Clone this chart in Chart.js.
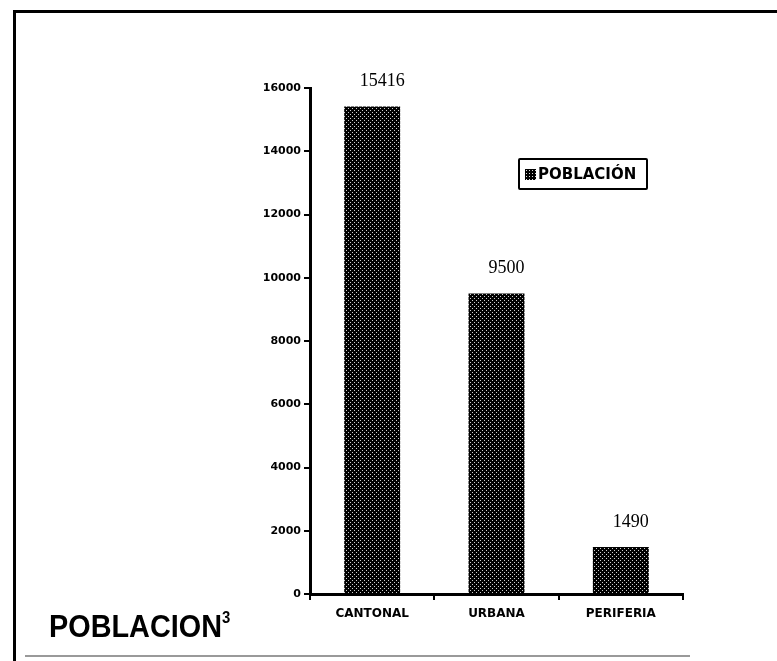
<!DOCTYPE html>
<html>
<head>
<meta charset="utf-8">
<script src="https://cdn.jsdelivr.net/npm/chart.js@4"></script>
<style>
  html, body { margin: 0; padding: 0; background: #fff; }
  #wrap { position: relative; width: 777px; height: 661px; overflow: hidden; }
  #myChart { position: absolute; left: 0; top: 0; }
  .line { position: absolute; background: #000; }
  #legend {
    position: absolute; left: 518px; top: 158px; width: 130px; height: 32px;
    box-sizing: border-box; border: 2px solid #000; border-radius: 2px;
    font: bold 15px "DejaVu Sans", sans-serif; color: #000;
    display: flex; align-items: center; padding-left: 5px;
  }
  #legend .sw {
    width: 11px; height: 11px; margin-right: 2px;
    background-color: #000;
    background-image: radial-gradient(#ddd 30%, transparent 31%);
    background-size: 3px 3px;
  }
  #title {
    position: absolute; left: 49px; top: 609px; line-height: normal;
    font: bold 31px "Liberation Sans", Arial, sans-serif; color: #000;
    transform: scaleX(0.93); transform-origin: 0 0; white-space: nowrap;
  }
  #title sup { font-size: 16px; position: relative; top: -3px; }
</style>
</head>
<body>
<div id="wrap">
  <canvas id="myChart" width="777" height="661"></canvas>
  <div class="line" style="left:13px; top:10px; width:764px; height:3px;"></div>
  <div class="line" style="left:13px; top:10px; width:3px; height:651px;"></div>
  <div class="line" style="left:25px; top:655px; width:665px; height:2px; background:#999;"></div>
  <div id="legend"><span class="sw"></span>POBLACIÓN</div>
  <div id="title">POBLACION<sup>3</sup></div>
</div>
<script>
var categorias = ['CANTONAL', 'URBANA', 'PERIFERIA'];
var poblacion = [15416, 9500, 1490];
var ticksY = [0, 2000, 4000, 6000, 8000, 10000, 12000, 14000, 16000];

// trama de puntos para las barras
var tile = document.createElement('canvas');
tile.width = 4; tile.height = 4;
var tctx = tile.getContext('2d');
tctx.fillStyle = '#000';
tctx.fillRect(0, 0, 4, 4);
tctx.fillStyle = '#cfcfcf';
tctx.fillRect(0, 0, 1, 1);
tctx.fillRect(2, 2, 1, 1);
var ctx = document.getElementById('myChart');
var trama = ctx.getContext('2d').createPattern(tile, 'repeat');

var etiquetas = {
  id: 'etiquetas',
  afterDatasetsDraw: function(chart) {
    var c = chart.ctx;
    var meta = chart.getDatasetMeta(0);
    c.save();
    c.font = '18px "Liberation Serif", "Times New Roman", serif';
    c.fillStyle = '#000';
    c.textAlign = 'center';
    c.textBaseline = 'middle';
    meta.data.forEach(function(bar, i) {
      c.fillText(String(poblacion[i]), bar.x + 10, bar.y - 25);
    });
    c.restore();
  }
};

var myChart = new Chart(ctx, {
  type: 'bar',
  data: {
    labels: categorias,
    datasets: [{
      label: 'POBLACIÓN',
      data: poblacion,
      backgroundColor: trama,
      borderWidth: 0,
      barPercentage: 0.45,
      categoryPercentage: 1
    }]
  },
  options: {
    responsive: false,
    animation: false,
    layout: { padding: { top: 88, right: 94, left: 0, bottom: 0 } },
    plugins: {
      legend: { display: false },
      tooltip: { enabled: false }
    },
    scales: {
      x: {
        offset: true,
        grid: { offset: true, drawOnChartArea: false, drawTicks: true, tickLength: 6, color: '#000', lineWidth: 2 },
        border: { display: true, color: '#000', width: 3 },
        ticks: { color: '#000', padding: 7, maxRotation: 0, font: { family: 'DejaVu Sans', size: 12, weight: 'bold' } },
        afterFit: function(scale) { scale.height = 67; }
      },
      y: {
        min: 0,
        max: 16000,
        afterBuildTicks: function(scale) {
          scale.ticks = ticksY.map(function(v) { return { value: v }; });
        },
        grid: { drawOnChartArea: false, drawTicks: true, tickLength: 6, color: '#000', lineWidth: 2 },
        border: { display: true, color: '#000', width: 3 },
        ticks: {
          color: '#000', padding: 3,
          font: { family: 'DejaVu Sans', size: 11, weight: 'bold' },
          callback: function(v) { return String(v); }
        },
        afterFit: function(scale) { scale.width = 310; }
      }
    }
  },
  plugins: [etiquetas]
});
</script>
</body>
</html>
